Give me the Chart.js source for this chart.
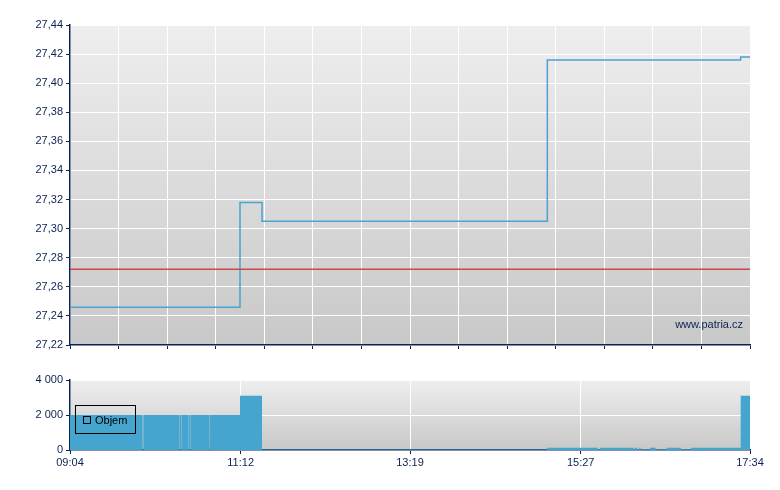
<!DOCTYPE html>
<html><head><meta charset="utf-8">
<script src="https://cdn.jsdelivr.net/npm/chart.js@4/dist/chart.umd.min.js"></script>
<style>
html,body{margin:0;padding:0;background:#fff;}
#wrap{position:relative;width:780px;height:490px;overflow:hidden;}
#c1{position:absolute;left:0;top:0;}
#c2{position:absolute;left:0;top:360px;}
#legend{position:absolute;left:75px;top:405px;width:61px;height:29px;border:1px solid #000;box-sizing:border-box;font:11px "Liberation Sans",Arial,sans-serif;color:#000;}
#legend .sw{position:absolute;left:7px;top:10px;width:8px;height:8px;box-sizing:border-box;border:1px solid #000;background:#46a5cf;}
#legend .tx{position:absolute;left:19px;top:8px;line-height:13px;}
</style></head>
<body>
<div id="wrap">
<canvas id="c1" width="780" height="360"></canvas>
<canvas id="c2" width="780" height="130"></canvas>
<div id="legend"><div class="sw"></div><div class="tx">Objem</div></div>
</div>
<script>
// ---- data ----
const dayStart = '09:04';
const dayEnd = '17:34';
const timeLabels = ['09:04', '11:12', '13:19', '15:27', '17:34'];
const priceTicks = [27.22, 27.24, 27.26, 27.28, 27.30, 27.32, 27.34, 27.36, 27.38, 27.40, 27.42, 27.44];
const volumeTicks = [0, 2000, 4000];
const priceTimes = ['09:04:00', '11:11:30', '11:28:00', '15:02:00', '17:27:00', '17:34:00'];
const priceValues = [27.246, 27.318, 27.305, 27.416, 27.418, 27.418];
const prevClose = 27.272;
const volumeTimes = ['09:04:00', '09:58:00', '09:58:15', '09:59:00', '09:59:15',
  '10:25:45', '10:26:00', '10:27:15', '10:27:30', '10:32:45', '10:33:00', '10:34:15', '10:34:30',
  '10:48:45', '10:49:00', '11:11:30', '11:28:00', '15:02:00', '15:39:45', '15:41:30',
  '16:07:00', '16:07:45', '16:09:30', '16:11:00', '16:12:00', '16:19:00', '16:23:15',
  '16:31:30', '16:42:15', '16:49:45', '17:27:00', '17:34:00'];
const volumeValues = [2000, 0, 2000, 0, 2000,
  0, 2000, 0, 2000, 0, 2000, 0, 2000,
  0, 2000, 3100, 30, 130, 40, 130,
  40, 130, 40, 130, 40, 130, 40,
  130, 40, 130, 3100, 3100];
const volumeLabel = 'Objem';
const watermark = 'www.patria.cz';

// ---- helpers ----
function toMin(t) { const p = t.split(':').map(Number); return p[0] * 60 + p[1] + (p[2] || 0) / 60; }
const xMin = toMin(dayStart), xMax = toMin(dayEnd);
const NAVY = '#0b2350';
const FONT = '"Liberation Sans", Arial, sans-serif';
Chart.defaults.font.family = FONT;
Chart.defaults.font.size = 11;
Chart.defaults.color = NAVY;

const bgPlugin = {
  id: 'bg',
  beforeDraw(chart) {
    const a = chart.chartArea, ctx = chart.ctx;
    const g = ctx.createLinearGradient(0, a.top, 0, a.bottom);
    g.addColorStop(0, '#eeeeee');
    g.addColorStop(1, '#c8c8c8');
    ctx.save(); ctx.fillStyle = g; ctx.fillRect(a.left, a.top, a.right - a.left, a.bottom - a.top); ctx.restore();
  }
};
const wmPlugin = {
  id: 'wm',
  afterDraw(chart) {
    const a = chart.chartArea, ctx = chart.ctx;
    ctx.save(); ctx.font = '11px ' + FONT; ctx.fillStyle = NAVY; ctx.textAlign = 'right'; ctx.textBaseline = 'middle';
    ctx.fillText(watermark, a.right - 7, a.bottom - 20); ctx.restore();
  }
};

const priceData = priceTimes.map((t, i) => ({ x: toMin(t), y: priceValues[i] }));
const closeData = [{ x: xMin, y: prevClose }, { x: xMax, y: prevClose }];
const volData = volumeTimes.map((t, i) => ({ x: toMin(t), y: volumeValues[i] }));

function fmtTime(v) { const h = Math.floor(v / 60), m = Math.round(v - h * 60); return String(h).padStart(2, '0') + ':' + String(m).padStart(2, '0'); }

new Chart(document.getElementById('c1'), {
  type: 'line',
  data: { datasets: [
    { data: closeData, borderColor: 'rgba(205,55,55,0.9)', borderWidth: 1.5, pointRadius: 0 },
    { data: priceData, stepped: true, borderColor: '#4ba3cf', borderWidth: 1.5, pointRadius: 0 }
  ] },
  options: {
    responsive: false, animation: false, devicePixelRatio: 1,
    layout: { padding: { left: 0, right: 30, top: 25, bottom: 0 } },
    plugins: { legend: { display: false }, tooltip: { enabled: false } },
    scales: {
      x: {
        type: 'linear', min: xMin, max: xMax,
        afterBuildTicks: s => { const n = 14, arr = []; for (let i = 0; i <= n; i++) arr.push({ value: xMin + (xMax - xMin) * i / n }); s.ticks = arr; },
        afterFit: s => { s.height = 15; },
        ticks: { display: false },
        grid: { color: '#ffffff', lineWidth: 1, tickColor: NAVY, tickLength: 4 },
        border: { color: NAVY, width: 1.5 }
      },
      y: {
        min: priceTicks[0], max: priceTicks[priceTicks.length - 1],
        afterBuildTicks: s => { s.ticks = priceTicks.map(v => ({ value: v })); },
        afterFit: s => { s.width = 70; },
        ticks: { padding: 3, color: NAVY, callback: v => Number(v).toFixed(2).replace('.', ',') },
        grid: { color: '#ffffff', lineWidth: 1, tickColor: NAVY, tickLength: 4 },
        border: { color: NAVY, width: 1.5 }
      }
    }
  },
  plugins: [bgPlugin, wmPlugin]
});

new Chart(document.getElementById('c2'), {
  type: 'line',
  data: { datasets: [
    { label: volumeLabel, data: volData, stepped: true, fill: 'origin', backgroundColor: '#46a5cf', borderWidth: 0, borderColor: 'rgba(0,0,0,0)', pointRadius: 0 }
  ] },
  options: {
    responsive: false, animation: false, devicePixelRatio: 1,
    layout: { padding: { left: 0, right: 30, top: 20, bottom: 0 } },
    plugins: { legend: { display: false }, tooltip: { enabled: false } },
    scales: {
      x: {
        type: 'linear', min: xMin, max: xMax,
        afterBuildTicks: s => { s.ticks = timeLabels.map(t => ({ value: toMin(t) })); },
        afterFit: s => { s.height = 40; },
        ticks: { padding: 2, color: NAVY, maxRotation: 0, autoSkip: false, callback: v => fmtTime(v) },
        grid: { color: '#ffffff', lineWidth: 1, tickColor: NAVY, tickLength: 4 },
        border: { color: NAVY, width: 1.5 }
      },
      y: {
        min: 0, max: 4000,
        afterBuildTicks: s => { s.ticks = volumeTicks.map(v => ({ value: v })); },
        afterFit: s => { s.width = 70; },
        ticks: { padding: 3, color: NAVY, callback: v => String(v).replace(/\B(?=(\d{3})+(?!\d))/g, ' ') },
        grid: { color: '#ffffff', lineWidth: 1, tickColor: NAVY, tickLength: 4 },
        border: { color: NAVY, width: 1.5 }
      }
    }
  },
  plugins: [bgPlugin]
});
</script>
</body></html>
